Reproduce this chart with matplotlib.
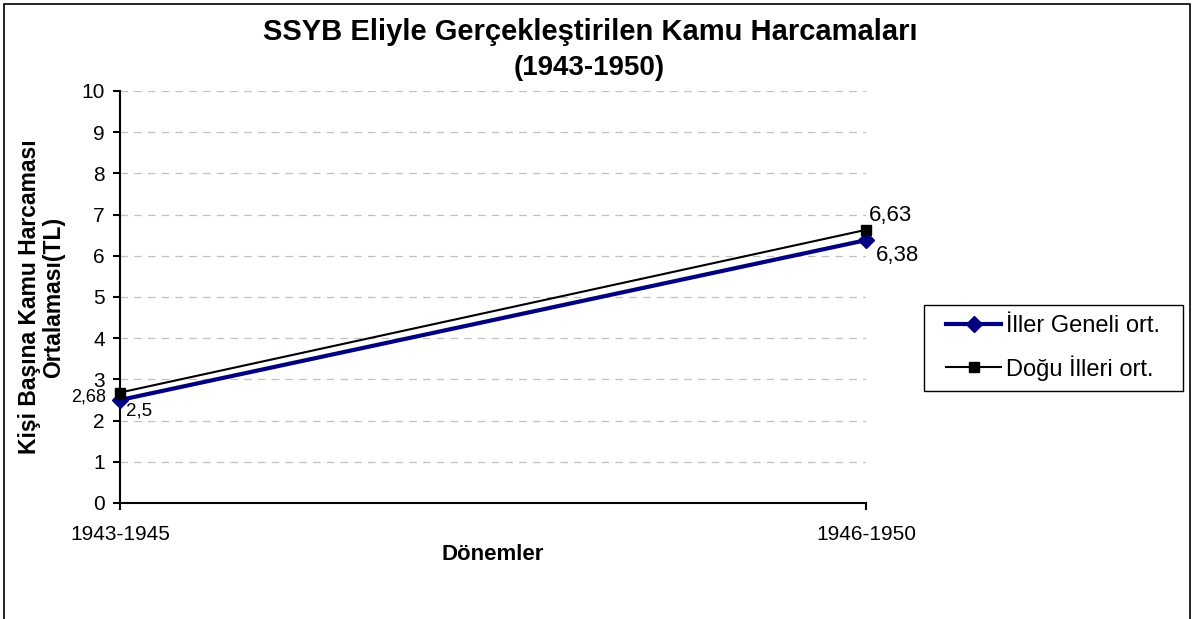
import matplotlib.pyplot as plt
from matplotlib.patches import Rectangle

plt.rcParams['font.family'] = ['Liberation Sans', 'DejaVu Sans']

periods = ["1943-1945", "1946-1950"]
iller_geneli = [2.5, 6.38]
dogu_illeri = [2.68, 6.63]
series_names = ["İller Geneli ort.", "Doğu İlleri ort."]
yticks = list(range(0, 11))


def fmt(v):
    return f"{v:g}".replace(".", ",")


W, H = 1195, 619
fig = plt.figure(figsize=(W / 100, H / 100), dpi=100)
# outer chart border (bottom edge lies below the picture)
fig.patches.append(Rectangle((4 / W, -0.1), 1186 / W, 1.1 - 4 / H, transform=fig.transFigure,
                             fill=False, edgecolor="black", linewidth=1.2))
ax = fig.add_axes([120 / W, 1 - 503 / H, 746 / W, 412 / H])

x = list(range(len(periods)))
ax.plot(x, iller_geneli, color="#000080", linewidth=3.0, marker="D", markersize=8,
        label=series_names[0], zorder=3, clip_on=False)
ax.plot(x, dogu_illeri, color="black", linewidth=1.5, marker="s", markersize=7,
        label=series_names[1], zorder=4, clip_on=False)

ax.set_xlim(0, 1)
ax.set_ylim(0, 10)
ax.set_xticks(x)
ax.set_xticklabels(periods, fontsize=15)
ax.set_yticks(yticks)
ax.set_yticklabels([str(t) for t in yticks], fontsize=15)
ax.yaxis.grid(True, linestyle=(0, (6, 5)), color="#c0c0c0", linewidth=0.9)
ax.set_axisbelow(True)
for s in ["top", "right"]:
    ax.spines[s].set_visible(False)
for s in ["left", "bottom"]:
    ax.spines[s].set_linewidth(1.5)
ax.tick_params(axis="both", length=5, width=1.5)
ax.tick_params(axis="x", pad=11)
ax.tick_params(axis="y", pad=6)

# data labels
ax.annotate(fmt(dogu_illeri[0]), (x[0], dogu_illeri[0]), xytext=(-10, -3.5), textcoords="offset points",
            ha="right", va="center", fontsize=13, annotation_clip=False)
ax.annotate(fmt(iller_geneli[0]), (x[0], iller_geneli[0]), xytext=(4, -8), textcoords="offset points",
            ha="left", va="center", fontsize=13.5, annotation_clip=False)
ax.annotate(fmt(dogu_illeri[1]), (x[1], dogu_illeri[1]), xytext=(2, 10), textcoords="offset points",
            ha="left", va="center", fontsize=16, annotation_clip=False)
ax.annotate(fmt(iller_geneli[1]), (x[1], iller_geneli[1]), xytext=(7, -11), textcoords="offset points",
            ha="left", va="center", fontsize=16, annotation_clip=False)

ax.set_xlabel("Dönemler", fontsize=16, fontweight="bold", labelpad=0)
ax.set_ylabel("Kişi Başına Kamu Harcaması\nOrtalaması(TL)", fontsize=16.5, fontweight="bold",
              labelpad=12, linespacing=1.05)

fig.text(590 / W, 1 - 32 / H, "SSYB Eliyle Gerçekleştirilen Kamu Harcamaları", ha="center", va="center",
         fontsize=21, fontweight="bold")
fig.text(589 / W, 1 - 68 / H, "(1943-1950)", ha="center", va="center", fontsize=20, fontweight="bold")

# legend box
fig.patches.append(Rectangle((924 / W, 1 - 391 / H), 259 / W, 86 / H, transform=fig.transFigure,
                             fill=False, edgecolor="black", linewidth=1.0))
leg = ax.legend(loc="center", bbox_to_anchor=(1053 / W, 1 - 348 / H),
                bbox_transform=fig.transFigure, fontsize=17, frameon=False,
                handlelength=2.3, borderpad=0.3, labelspacing=0.76, handletextpad=0.2,
                borderaxespad=0)

fig.savefig("out.png", dpi=100)
